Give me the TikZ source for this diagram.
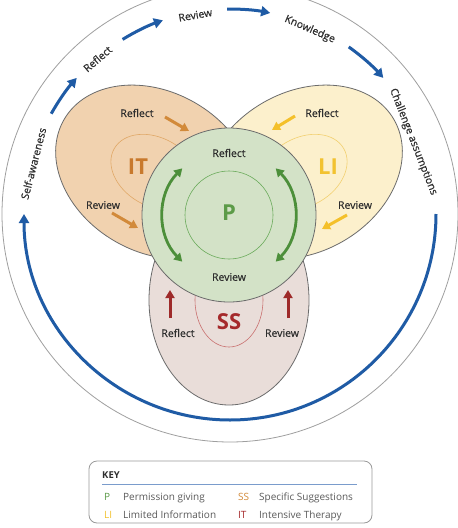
\documentclass[tikz,border=0pt]{standalone}
\usepackage{fontspec}
\setmainfont{Open Sans}
\newfontfamily\medfont[FakeBold=0.6]{Open Sans}
\usetikzlibrary{arrows.meta,shapes.geometric}
\definecolor{itfill}{HTML}{F1D2AF}
\definecolor{itcol}{HTML}{C8792D}
\definecolor{itarrow}{HTML}{D28A3A}
\definecolor{itinner}{HTML}{E0A868}
\definecolor{lifill}{HTML}{FCF0CC}
\definecolor{licol}{HTML}{F2C230}
\definecolor{liarrow}{HTML}{F4C02A}
\definecolor{liinner}{HTML}{F2D070}
\definecolor{ssfill}{HTML}{E9DDD9}
\definecolor{sscol}{HTML}{A5292B}
\definecolor{ssarrow}{HTML}{9E2A2A}
\definecolor{ssinner}{HTML}{C97070}
\definecolor{pfill}{HTML}{D3E2C7}
\definecolor{pcol}{HTML}{5C9B48}
\definecolor{parrow}{HTML}{4C8F3A}
\definecolor{pinner}{HTML}{6AAA5A}
\definecolor{bluec}{HTML}{1F5BA5}
\definecolor{txt}{HTML}{2E2E2E}
\definecolor{outl}{HTML}{6B6B6B}
\definecolor{keytxt}{HTML}{5A5A5A}
\definecolor{keyline}{HTML}{7A9CCC}
\tikzset{
  lobe/.style={ellipse, draw=outl, line width=0.8pt, inner sep=0pt},
  innerlobe/.style={ellipse, line width=0.6pt, inner sep=0pt},
  lbl/.style={text=txt, inner sep=0pt, font=\medfont\fontsize{10.5}{12}\selectfont},
  big/.style={inner sep=0pt, font=\fontsize{22}{24}\selectfont\bfseries},
  lobearrow/.style={line width=3pt, -{Triangle[length=8pt,width=9pt]}},
  bluearrow/.style={bluec, line width=3pt, -{Triangle[length=9pt,width=10pt]}},
  greenarc/.style={parrow, line width=2.8pt, {Triangle[length=8pt,width=9pt]}-{Triangle[length=8pt,width=9pt]}},
  keytext/.style={text=keytxt, inner sep=0pt, anchor=base west, font=\fontsize{10}{12}\selectfont},
  keysym/.style={inner sep=0pt, anchor=base west, font=\fontsize{10}{12}\selectfont},
}
\begin{document}
\begin{tikzpicture}[x=1pt,y=-1pt]
\useasboundingbox (0,0) rectangle (458,528);
\clip (0,0) rectangle (458,528);
\fill[white] (0,0) rectangle (458,528);
\coordinate (O) at (230,214);
% outer circle
\draw[gray!75, line width=0.8pt] (O) circle[radius=228];
% big blue arc
\draw[bluearrow] (O) ++(0:206) arc[start angle=0, end angle=180, radius=206];
% small blue arrows
\draw[bluearrow] (O) ++(-150.7:205) arc[start angle=-150.7, end angle=-138.4, radius=205];
\draw[bluearrow] (O) ++(-121.6:205) arc[start angle=-121.6, end angle=-109.1, radius=205];
\draw[bluearrow] (O) ++(-90.8:205) arc[start angle=-90.8, end angle=-78.7, radius=205];
\draw[bluearrow] (O) ++(-54.6:205) arc[start angle=-54.6, end angle=-41.6, radius=205];
% outer labels
\node[lbl, rotate=75.6] (lsa) at ([shift={(-165.6:203)}]O) {Self-awareness};
\node[lbl, rotate=40.5] (lrf) at ([shift={(-130.5:204)}]O) {Reflect};
\node[lbl, rotate=9.9] (lrv) at ([shift={(-99.9:202)}]O) {Review};
\node[lbl, rotate=-23.4] (lkn) at ([shift={(-66.6:201)}]O) {Knowledge};
\node[lbl, rotate=-68.5] (lca) at ([shift={(-21.5:197)}]O) {Challenge assumptions};
% lobes
\node[lobe, fill=ssfill, minimum width=160pt, minimum height=210pt] (SSlobe) at (229,300) {};
\node[lobe, fill=itfill, minimum width=210pt, minimum height=160pt, rotate=-30] (ITlobe) at (155,172) {};
\node[lobe, fill=lifill, minimum width=210pt, minimum height=160pt, rotate=30] (LIlobe) at (303,172) {};
\node[innerlobe, draw=ssinner, minimum width=68pt, minimum height=94pt] (SSin) at (229,300) {};
\node[innerlobe, draw=itinner, minimum width=94pt, minimum height=68pt, rotate=-30] (ITin) at (155,172) {};
\node[innerlobe, draw=liinner, minimum width=94pt, minimum height=68pt, rotate=30] (LIin) at (303,172) {};
% green circle
\node[circle, draw=outl, line width=0.8pt, fill=pfill, minimum size=174pt, inner sep=0pt] (Pc) at (229,215) {};
\node[circle, draw=pinner, line width=0.6pt, minimum size=88pt, inner sep=0pt] (Pin) at (229,215) {};
\draw[greenarc] (Pc.center) ++(135:66) arc[start angle=135, end angle=225, radius=66];
\draw[greenarc] (Pc.center) ++(-45:66) arc[start angle=-45, end angle=45, radius=66];
% big letters
\node[big, text=pcol] (P) at (229,213) {P};
\node[big, text=itcol] (IT) at (138,167) {IT};
\node[big, text=licol] (LI) at (328,167) {LI};
\node[big, text=sscol] (SS) at (229,322) {SS};
% inner labels
\node[lbl] (pref) at (229,153) {Reflect};
\node[lbl] (prev) at (229,277) {Review};
\node[lbl] (itref) at (137,113) {Reflect};
\node[lbl] (itrev) at (103,205) {Review};
\node[lbl] (liref) at (322,113) {Reflect};
\node[lbl] (lirev) at (355,205) {Review};
\node[lbl] (ssref) at (178,333) {Reflect};
\node[lbl] (ssrev) at (282,333) {Review};
% lobe arrows
\coordinate (a1s) at (165,117); \coordinate (a1e) at (189,131);
\coordinate (a2s) at (112,213); \coordinate (a2e) at (138,228);
\coordinate (a3s) at (295,116); \coordinate (a3e) at (272,130);
\coordinate (a4s) at (347,215); \coordinate (a4e) at (322,229);
\coordinate (a5s) at (170,318); \coordinate (a5e) at (170,290);
\coordinate (a6s) at (288,318); \coordinate (a6e) at (288,290);
\draw[lobearrow, itarrow] (a1s) -- (a1e);
\draw[lobearrow, itarrow] (a2s) -- (a2e);
\draw[lobearrow, liarrow] (a3s) -- (a3e);
\draw[lobearrow, liarrow] (a4s) -- (a4e);
\draw[lobearrow, ssarrow] (a5s) -- (a5e);
\draw[lobearrow, ssarrow] (a6s) -- (a6e);
% key
\node[draw=gray!80, line width=0.8pt, rounded corners=8pt, minimum width=283pt, minimum height=62pt, inner sep=0pt] (key) at (230.5,492) {};
\node[keysym, text=txt, font=\fontsize{9.5}{11}\selectfont\bfseries] (keyt) at (102,478) {KEY};
\coordinate (kl1) at (102,484); \coordinate (kl2) at (357,484);
\draw[keyline, line width=0.8pt] (kl1) -- (kl2);
\node[keysym, text=pcol] (k1) at (104,500) {P};
\node[keytext] (k1t) at (123,500) {Permission giving};
\node[keysym, text=licol] (k2) at (104,518) {LI};
\node[keytext] (k2t) at (123,518) {Limited Information};
\node[keysym, text=itarrow] (k3) at (238,500) {SS};
\node[keytext] (k3t) at (259,500) {Specific Suggestions};
\node[keysym, text=sscol] (k4) at (238,518) {IT};
\node[keytext] (k4t) at (259,518) {Intensive Therapy};
\end{tikzpicture}
\end{document}
